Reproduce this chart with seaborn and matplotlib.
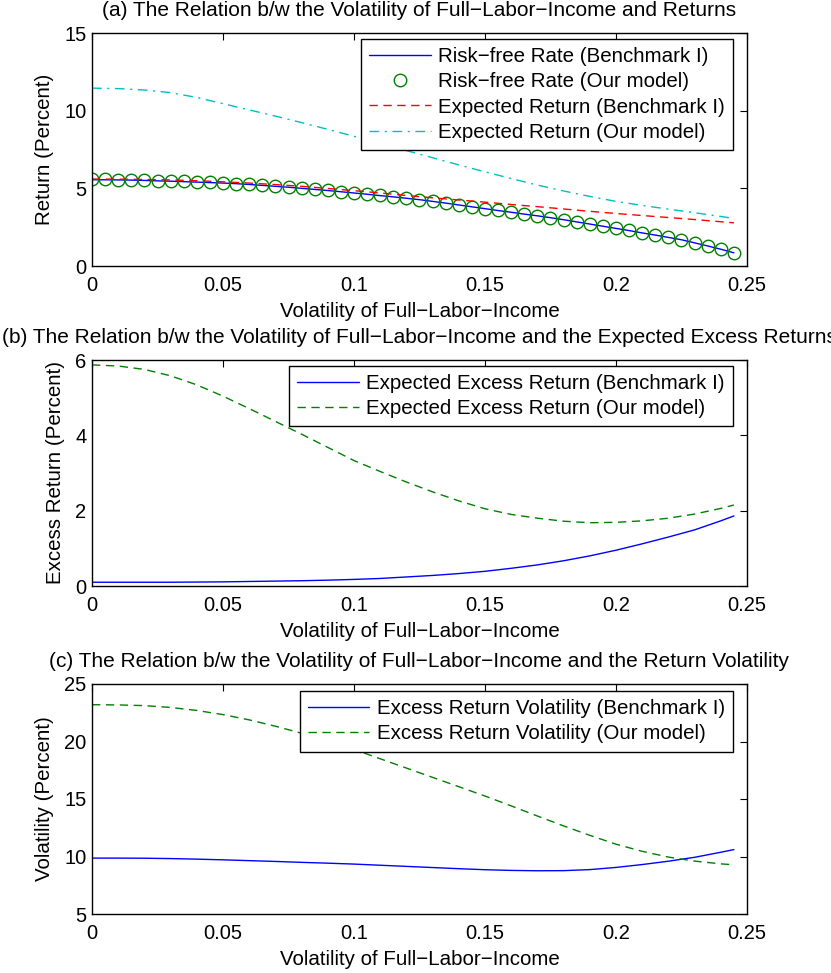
import numpy as np
import pandas as pd
import seaborn as sns
import matplotlib
matplotlib.use("Agg")
import matplotlib.pyplot as plt

# ---------------- data ----------------
# fine grid for the risk-free-rate circles (every 0.005)
x_fine = [0.000, 0.005, 0.010, 0.015, 0.020, 0.025, 0.030, 0.035, 0.040, 0.045,
          0.050, 0.055, 0.060, 0.065, 0.070, 0.075, 0.080, 0.085, 0.090, 0.095,
          0.100, 0.105, 0.110, 0.115, 0.120, 0.125, 0.130, 0.135, 0.140, 0.145,
          0.150, 0.155, 0.160, 0.165, 0.170, 0.175, 0.180, 0.185, 0.190, 0.195,
          0.200, 0.205, 0.210, 0.215, 0.220, 0.225, 0.230, 0.235, 0.240, 0.245]
rf_ours = [5.57, 5.57, 5.56, 5.54, 5.52, 5.49, 5.47, 5.44, 5.41, 5.39,
           5.36, 5.31, 5.26, 5.20, 5.14, 5.08, 5.01, 4.94, 4.87, 4.79,
           4.71, 4.63, 4.54, 4.46, 4.37, 4.28, 4.17, 4.05, 3.94, 3.82,
           3.70, 3.58, 3.47, 3.35, 3.24, 3.12, 2.99, 2.85, 2.71, 2.57,
           2.43, 2.29, 2.14, 2.00, 1.85, 1.70, 1.50, 1.30, 1.09, 0.86]
rf_bench = [5.55, 5.55, 5.54, 5.53, 5.51, 5.48, 5.46, 5.43, 5.40, 5.37,
            5.34, 5.30, 5.25, 5.19, 5.13, 5.07, 5.00, 4.93, 4.86, 4.78,
            4.70, 4.62, 4.53, 4.45, 4.36, 4.27, 4.16, 4.05, 3.93, 3.81,
            3.69, 3.57, 3.46, 3.34, 3.23, 3.11, 2.98, 2.84, 2.70, 2.56,
            2.42, 2.28, 2.13, 1.99, 1.84, 1.69, 1.49, 1.29, 1.08, 0.85]

# coarse grid for the other curves
x = [0.00, 0.01, 0.02, 0.03, 0.04, 0.05, 0.06, 0.07, 0.08, 0.09, 0.10, 0.11, 0.12,
     0.13, 0.14, 0.15, 0.16, 0.17, 0.18, 0.19, 0.20, 0.21, 0.22, 0.23, 0.24, 0.245]
er_bench = [5.60, 5.59, 5.57, 5.54, 5.49, 5.42, 5.34, 5.24, 5.13, 4.99, 4.85, 4.70, 4.54,
            4.39, 4.25, 4.11, 3.96, 3.82, 3.67, 3.52, 3.38, 3.25, 3.12, 2.99, 2.85, 2.78]
er_ours = [11.45, 11.42, 11.33, 11.16, 10.85, 10.45, 10.05, 9.65, 9.23, 8.80, 8.35, 7.89, 7.43,
           6.97, 6.51, 6.06, 5.63, 5.21, 4.83, 4.48, 4.16, 3.90, 3.66, 3.43, 3.19, 3.06]
eer_bench = [0.10, 0.10, 0.10, 0.10, 0.105, 0.11, 0.12, 0.13, 0.14, 0.155, 0.175, 0.20, 0.24,
             0.28, 0.33, 0.39, 0.47, 0.56, 0.67, 0.80, 0.95, 1.12, 1.30, 1.49, 1.73, 1.86]
eer_ours = [5.87, 5.84, 5.75, 5.58, 5.34, 5.04, 4.71, 4.37, 4.03, 3.68, 3.33, 3.04, 2.76,
            2.50, 2.26, 2.05, 1.90, 1.80, 1.72, 1.68, 1.69, 1.73, 1.80, 1.91, 2.06, 2.15]
vol_bench = [9.86, 9.86, 9.85, 9.82, 9.77, 9.71, 9.64, 9.57, 9.49, 9.42, 9.34, 9.24, 9.14,
             9.04, 8.94, 8.85, 8.79, 8.76, 8.77, 8.86, 9.05, 9.30, 9.59, 9.93, 10.37, 10.60]
vol_ours = [23.20, 23.18, 23.12, 22.96, 22.70, 22.34, 21.88, 21.33, 20.72, 20.04, 19.31, 18.50, 17.69,
            16.88, 16.07, 15.26, 14.40, 13.52, 12.66, 11.84, 11.07, 10.45, 9.95, 9.60, 9.36, 9.28]

xticks = [0, 0.05, 0.1, 0.15, 0.2, 0.25]
xticklabels = ["0", "0.05", "0.1", "0.15", "0.2", "0.25"]

titles = ["(a) The Relation b/w the Volatility of Full\u2212Labor\u2212Income and Returns",
          "(b) The Relation b/w the Volatility of Full\u2212Labor\u2212Income and the Expected Excess Returns",
          "(c) The Relation b/w the Volatility of Full\u2212Labor\u2212Income and the Return Volatility"]
xlabel = "Volatility of Full\u2212Labor\u2212Income"
ylabels = ["Return (Percent)", "Excess Return (Percent)", "Volatility (Percent)"]

# ---------------- style ----------------
sns.set_theme(style="white")
plt.rcParams["font.family"] = ["Liberation Sans", "DejaVu Sans"]
plt.rcParams.update({
    "xtick.direction": "in", "ytick.direction": "in",
    "xtick.top": True, "ytick.right": True,
    "xtick.major.size": 5, "ytick.major.size": 5,
    "xtick.major.width": 0.8, "ytick.major.width": 0.8,
    "axes.edgecolor": "black", "axes.linewidth": 1.0,
    "xtick.color": "black", "ytick.color": "black",
    "text.color": "black", "axes.labelcolor": "black",
})
FS_TICK = 14.5
FS = 14.8
FS_TITLE = 15.0

BLUE = (0, 0, 1)
GREEN = (0, 0.5, 0)
RED = (1, 0, 0)
CYAN = (0, 0.75, 0.75)

fig = plt.figure(figsize=(8.31, 9.73), dpi=100)
W, H = 831, 973
def axes_px(l, t, r, b):
    return fig.add_axes([l / W, 1 - b / H, (r - l) / W, (b - t) / H])

ax_a = axes_px(92, 33, 747, 266)
ax_b = axes_px(92, 360, 747, 586)
ax_c = axes_px(92, 684, 747, 914)

dash = (0, (6, 4))
dashdot = (0, (7, 4, 1.5, 4))

# panel (a)
sns.lineplot(x=x_fine, y=rf_bench, ax=ax_a, color=BLUE, lw=1.0, label="Risk\u2212free Rate (Benchmark I)")
sns.lineplot(x=x_fine, y=rf_ours, ax=ax_a, color=GREEN, linestyle="none", marker="o",
             markersize=9, markerfacecolor="none", markeredgecolor=GREEN, markeredgewidth=1.0,
             label="Risk\u2212free Rate (Our model)")
sns.lineplot(x=x, y=er_bench, ax=ax_a, color=RED, lw=1.0, linestyle=dash, label="Expected Return (Benchmark I)")
sns.lineplot(x=x, y=er_ours, ax=ax_a, color=CYAN, lw=1.0, linestyle=dashdot, label="Expected Return (Our model)")
ax_a.set_ylim(0, 15)
ax_a.set_yticks([0, 5, 10, 15])

# panel (b)
sns.lineplot(x=x, y=eer_bench, ax=ax_b, color=BLUE, lw=1.0, label="Expected Excess Return (Benchmark I)")
sns.lineplot(x=x, y=eer_ours, ax=ax_b, color=GREEN, lw=1.0, linestyle=dash, label="Expected Excess Return (Our model)")
ax_b.set_ylim(0, 6)
ax_b.set_yticks([0, 2, 4, 6])

# panel (c)
sns.lineplot(x=x, y=vol_bench, ax=ax_c, color=BLUE, lw=1.0, label="Excess Return Volatility (Benchmark I)")
sns.lineplot(x=x, y=vol_ours, ax=ax_c, color=GREEN, lw=1.0, linestyle=dash, label="Excess Return Volatility (Our model)")
ax_c.set_ylim(5, 25)
ax_c.set_yticks([5, 10, 15, 20, 25])

legend_tops = [0.974, 0.975, 0.970]
for ax, title, ylab, lt in zip([ax_a, ax_b, ax_c], titles, ylabels, legend_tops):
    ax.set_xlim(0, 0.25)
    ax.set_xticks(xticks)
    ax.set_xticklabels(xticklabels)
    ax.tick_params(axis="x", labelsize=FS_TICK, pad=7.5)
    ax.tick_params(axis="y", labelsize=FS_TICK, pad=4)
    ax.set_xlabel(xlabel, fontsize=FS, labelpad=4.5)
    ax.set_ylabel(ylab, fontsize=FS, labelpad=7)
    ax.set_title(title, fontsize=FS_TITLE, pad=12)
    for s in ax.spines.values():
        s.set_visible(True)
        s.set_color("black")
    leg = ax.legend(loc="upper right", bbox_to_anchor=(0.9786, lt), borderaxespad=0,
                    fontsize=FS, frameon=True, fancybox=False, framealpha=1,
                    edgecolor="black", handlelength=3.0, labelspacing=0.3,
                    borderpad=0.4, handletextpad=0.35)
    leg.get_frame().set_linewidth(1.0)

fig.savefig("out.png", dpi=100)
